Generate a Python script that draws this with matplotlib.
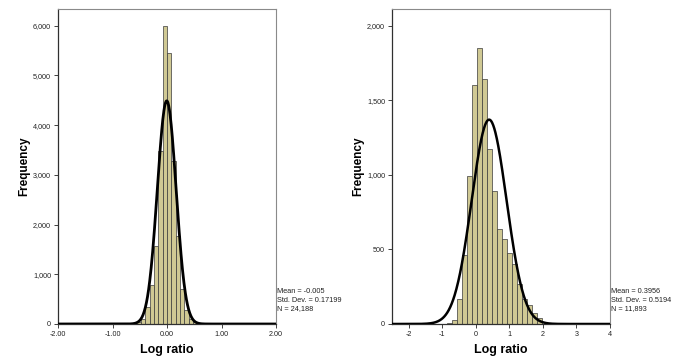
import matplotlib
matplotlib.use("Agg")
import matplotlib.pyplot as plt
import numpy as np

plt.rcParams['font.family'] = ['Liberation Sans', 'DejaVu Sans']

# left panel: bins of 0.08, counts
left_edges_start, left_bw = -0.72, 0.08
left_counts = [10, 20, 40, 110, 350, 785, 1560, 3470, 6000,
               5450, 3270, 1770, 700, 280, 110, 40, 15, 5]
left_mean, left_sd, left_n = -0.005, 0.17199, 24188
left_xticks = [-2, -1, 0, 1, 2]
left_xticklabels = ['-2.00', '-1.00', '0.00', '1.00', '2.00']
left_yticks = [0, 1000, 2000, 3000, 4000, 5000, 6000]
left_yticklabels = ['0', '1,000', '2,000', '3,000', '4,000', '5,000', '6,000']
left_stats = "Mean = -0.005\nStd. Dev. = 0.17199\nN = 24,188"

# right panel: bins of 0.15
right_edges_start, right_bw = -0.87, 0.15
right_counts = [10, 30, 165, 460, 990, 1600, 1850, 1640, 1170, 890,
                640, 570, 475, 400, 265, 165, 125, 75, 40]
right_mean, right_sd, right_n = 0.3956, 0.5194, 11893
right_xticks = [-2, -1, 0, 1, 2, 3, 4]
right_xticklabels = ['-2', '-1', '0', '1', '2', '3', '4']
right_yticks = [0, 500, 1000, 1500, 2000]
right_yticklabels = ['0', '500', '1,000', '1,500', '2,000']
right_stats = "Mean = 0.3956\nStd. Dev. = 0.5194\nN = 11,893"

BAR = '#d0c994'
W, H = 685, 358

fig = plt.figure(figsize=(W / 100, H / 100), dpi=100)


def panel(rect, start, bw, counts, mean, sd, n, xlim, ylim,
          xt, xtl, yt, ytl, stats, stats_x, lw):
    ax = fig.add_axes(rect)
    edges = start + bw * np.arange(len(counts))
    ax.bar(edges, counts, width=bw, align='edge', color=BAR,
           edgecolor='#3a3a3a', linewidth=0.5, zorder=2)
    # fitted normal curve from the reported statistics
    xs = np.linspace(xlim[0], xlim[1], 600)
    ys = n * bw * np.exp(-0.5 * ((xs - mean) / sd) ** 2) / (sd * np.sqrt(2 * np.pi))
    ax.plot(xs, ys, color='black', lw=lw, zorder=3)
    ax.set_xlim(*xlim)
    ax.set_ylim(*ylim)
    ax.set_xticks(xt)
    ax.set_xticklabels(xtl)
    ax.set_yticks(yt)
    ax.set_yticklabels(ytl)
    ax.tick_params(labelsize=5.2, length=3, width=0.6, pad=2, colors='#222222')
    for s in ['top', 'right']:
        ax.spines[s].set_color('#8a8a8a')
        ax.spines[s].set_linewidth(0.8)
    for s in ['left', 'bottom']:
        ax.spines[s].set_color('#303030')
        ax.spines[s].set_linewidth(0.9)
    ax.set_xlabel('Log ratio', fontsize=9, fontweight='bold', labelpad=4)
    ax.set_ylabel('Frequency', fontsize=8.5, fontweight='bold', labelpad=2)
    fig.text(stats_x / W, 1 - 288 / H, stats, fontsize=5.3, va='top',
             ha='left', linespacing=1.35, color='#222222')
    return ax


panel([58 / W, 34 / H, 218 / W, 315 / H], left_edges_start, left_bw,
      left_counts, left_mean, left_sd, left_n, (-2, 2), (0, 6336),
      left_xticks, left_xticklabels, left_yticks, left_yticklabels,
      left_stats, 277, 2.0)

panel([392 / W, 34 / H, 218 / W, 315 / H], right_edges_start, right_bw,
      right_counts, right_mean, right_sd, right_n, (-2.5, 4), (0, 2112),
      right_xticks, right_xticklabels, right_yticks, right_yticklabels,
      right_stats, 611, 1.8)

fig.savefig('out.png', dpi=100)
